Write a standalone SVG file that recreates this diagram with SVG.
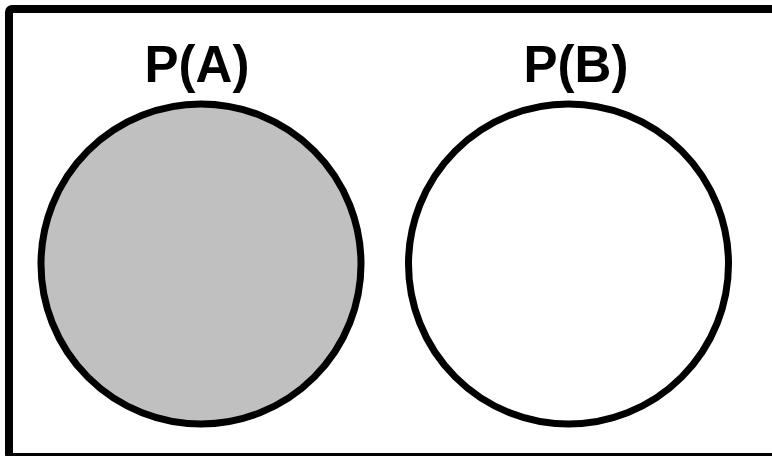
<svg xmlns="http://www.w3.org/2000/svg" width="772" height="456" viewBox="0 0 772 456">
<style>
.lbl{font-family:"Liberation Sans",Arial,sans-serif;font-weight:bold;font-size:51px;text-anchor:middle;fill:#000}
.c{stroke:#000;stroke-width:7}
</style>
<rect x="0" y="0" width="772" height="456" fill="#fff"/>
<g id="frame"><rect x="9" y="9" width="790" height="448" rx="3" fill="none" stroke="#000" stroke-width="8"/></g>
<g id="A">
<circle class="c" cx="201" cy="264" r="160" fill="#c0c0c0"/>
<text class="lbl" x="197" y="82">P(A)</text>
</g>
<g id="B">
<circle class="c" cx="568.5" cy="264" r="160" fill="#fff"/>
<text class="lbl" x="576" y="82">P(B)</text>
</g>
<g id="connectors"/>
</svg>
